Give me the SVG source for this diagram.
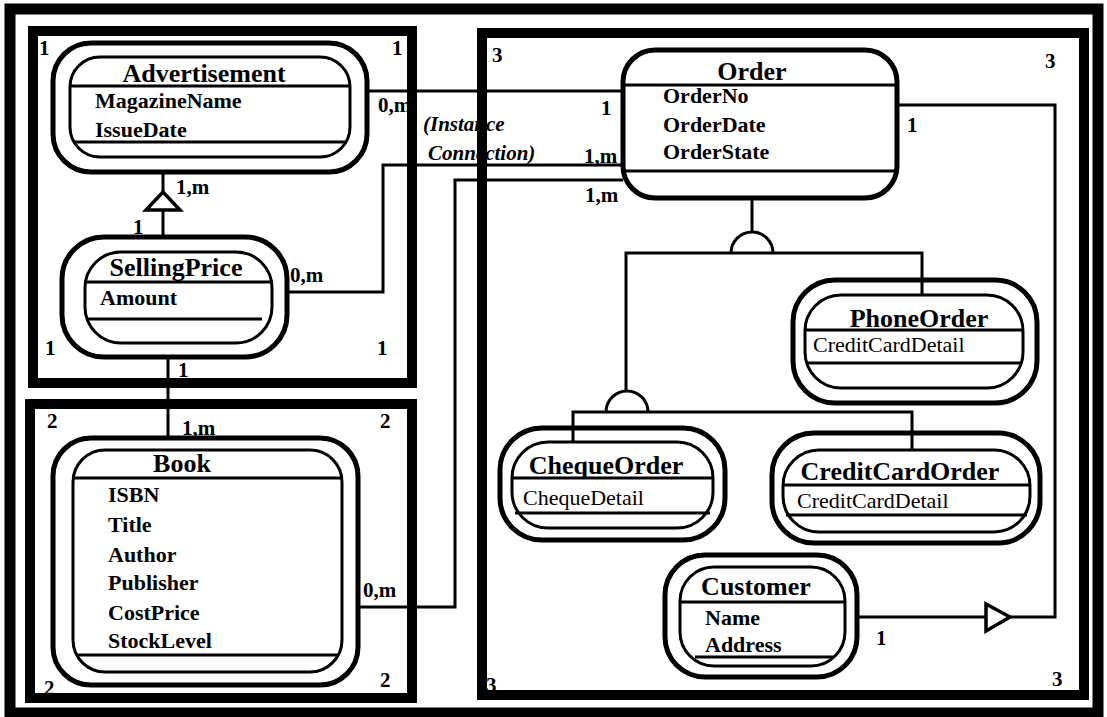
<svg xmlns="http://www.w3.org/2000/svg" width="1107" height="717" viewBox="0 0 1107 717">
<style>
.frame{fill:none;stroke:#000;stroke-width:10}
.outer{fill:#fff;stroke:#000;stroke-width:5}
.inner{fill:none;stroke:#000;stroke-width:3}
.sep{stroke:#000;stroke-width:3}
.conn{fill:none;stroke:#000;stroke-width:3}
.tri{fill:#fff;stroke:#000;stroke-width:3.5;stroke-linejoin:miter}
text{font-family:"Liberation Serif","Times New Roman",serif;fill:#000}
.t{font-weight:bold;font-size:26px;text-anchor:middle}
.a{font-weight:bold;font-size:22px}
.ar{font-weight:normal;font-size:22px}
.c{font-weight:bold;font-size:21px}
.i{font-weight:bold;font-style:italic;font-size:21px}
</style>
<rect width="1107" height="717" fill="#fff"/>

<g id="node-advertisement">
<rect class="outer" x="53" y="43" width="314" height="129" rx="38"/>
<rect class="inner" x="70" y="57" width="280" height="100" rx="30"/>
<line class="sep" x1="71" y1="86" x2="349" y2="86"/>
<line class="sep" x1="74" y1="142" x2="346" y2="142"/>
<text class="t" x="204" y="82">Advertisement</text>
<text class="a" x="95" y="108">MagazineName</text>
<text class="a" x="95" y="137">IssueDate</text>
</g>

<g id="node-sellingprice">
<rect class="outer" x="62" y="237" width="225" height="120" rx="42"/>
<rect class="inner" x="85" y="252" width="187" height="91" rx="36"/>
<line class="sep" x1="86" y1="282" x2="271" y2="282"/>
<line class="sep" x1="86" y1="319" x2="262" y2="319"/>
<text class="t" x="176" y="276">SellingPrice</text>
<text class="a" x="100" y="305">Amount</text>
</g>

<g id="node-book">
<rect class="outer" x="53" y="438" width="305" height="247" rx="38"/>
<rect class="inner" x="73" y="450" width="269" height="222" rx="32"/>
<line class="sep" x1="74" y1="478" x2="341" y2="478"/>
<line class="sep" x1="76" y1="655" x2="339" y2="655"/>
<text class="t" x="182" y="472">Book</text>
<text class="a" x="108" y="502">ISBN</text>
<text class="a" x="108" y="532">Title</text>
<text class="a" x="108" y="562">Author</text>
<text class="a" x="108" y="590">Publisher</text>
<text class="a" x="108" y="620">CostPrice</text>
<text class="a" x="108" y="648">StockLevel</text>
</g>

<g id="node-order">
<rect class="outer" x="623" y="50" width="274" height="148" rx="32"/>
<line class="sep" x1="624" y1="85" x2="896" y2="85"/>
<line class="sep" x1="624" y1="171" x2="896" y2="171"/>
<text class="t" x="752" y="80">Order</text>
<text class="a" x="663" y="103">OrderNo</text>
<text class="a" x="663" y="132">OrderDate</text>
<text class="a" x="663" y="159">OrderState</text>
</g>

<g id="node-phoneorder">
<rect class="outer" x="793" y="280" width="244" height="123" rx="42"/>
<rect class="inner" x="805" y="295" width="218" height="93" rx="36"/>
<line class="sep" x1="806" y1="330" x2="1022" y2="330"/>
<line class="sep" x1="807" y1="363" x2="1021" y2="363"/>
<text class="t" x="919" y="327">PhoneOrder</text>
<text class="ar" x="813" y="352">CreditCardDetail</text>
</g>

<g id="node-chequeorder">
<rect class="outer" x="500" y="428" width="225" height="112" rx="42"/>
<rect class="inner" x="512" y="442" width="201" height="86" rx="36"/>
<line class="sep" x1="513" y1="478" x2="712" y2="478"/>
<line class="sep" x1="515" y1="513" x2="710" y2="513"/>
<text class="t" x="606" y="474">ChequeOrder</text>
<text class="ar" x="523" y="505">ChequeDetail</text>
</g>

<g id="node-creditcardorder">
<rect class="outer" x="772" y="433" width="268" height="110" rx="42"/>
<rect class="inner" x="783" y="450" width="247" height="82" rx="36"/>
<line class="sep" x1="784" y1="485" x2="1029" y2="485"/>
<line class="sep" x1="786" y1="515" x2="1027" y2="515"/>
<text class="t" x="900" y="480">CreditCardOrder</text>
<text class="ar" x="797" y="508">CreditCardDetail</text>
</g>

<g id="node-customer">
<rect class="outer" x="665" y="555" width="192" height="122" rx="40"/>
<rect class="inner" x="680" y="567" width="165" height="99" rx="34"/>
<line class="sep" x1="681" y1="602" x2="844" y2="602"/>
<line class="sep" x1="695" y1="657" x2="833" y2="657"/>
<text class="t" x="756" y="595">Customer</text>
<text class="a" x="705" y="625">Name</text>
<text class="a" x="705" y="652">Address</text>
</g>

<g id="connectors">
<line class="conn" x1="163" y1="172" x2="163" y2="237"/>
<polygon class="tri" points="163,192 146,210 180,210"/>
<line class="conn" x1="168" y1="357" x2="168" y2="438"/>
<line class="conn" x1="367" y1="91" x2="623" y2="91"/>
<polyline class="conn" points="287,292 383,292 383,165 623,165"/>
<polyline class="conn" points="358,607 455,607 455,180 623,180"/>
<polyline class="conn" points="897,105 1055,105 1055,617 1010,617"/>
<line class="conn" x1="857" y1="617" x2="986" y2="617"/>
<polygon class="tri" points="986,604 1010,617 986,631"/>
<line class="conn" x1="752" y1="198" x2="752" y2="232"/>
<path class="conn" d="M731 253 A21 21 0 0 1 773 253"/>
<polyline class="conn" points="626,392 626,253 922,253 922,295"/>
<path class="conn" d="M606 412 A21 21 0 0 1 648 412"/>
<polyline class="conn" points="573,442 573,412 912,412 912,450"/>
</g>

<g id="labels">
<text class="c" x="176" y="194">1,m</text>
<text class="c" x="133" y="234">1</text>
<text class="c" x="178" y="377">1</text>
<text class="c" x="182" y="435">1,m</text>
<text class="c" x="290" y="282">0,m</text>
<text class="c" x="378" y="112">0,m</text>
<text class="c" x="601" y="115">1</text>
<text class="c" x="584" y="163">1,m</text>
<text class="c" x="585" y="202">1,m</text>
<text class="c" x="363" y="597">0,m</text>
<text class="c" x="907" y="132">1</text>
<text class="c" x="876" y="645">1</text>
<text class="i" x="423" y="131">(Instance</text>
<text class="i" x="428" y="160">Connection)</text>
<text class="c" x="39" y="55">1</text>
<text class="c" x="392" y="55">1</text>
<text class="c" x="45" y="355">1</text>
<text class="c" x="377" y="355">1</text>
<text class="c" x="47" y="428">2</text>
<text class="c" x="380" y="428">2</text>
<text class="c" x="44" y="695">2</text>
<text class="c" x="380" y="687">2</text>
<text class="c" x="492" y="62">3</text>
<text class="c" x="1045" y="68">3</text>
<text class="c" x="486" y="692">3</text>
<text class="c" x="1052" y="686">3</text>
</g>

<g id="frames">
<rect class="frame" x="10" y="9" width="1088" height="704" style="stroke-width:11"/>
<rect class="frame" x="33" y="31" width="379" height="352"/>
<rect class="frame" x="30" y="404" width="382" height="294"/>
<rect class="frame" x="482" y="33" width="602" height="662"/>
</g>
</svg>
